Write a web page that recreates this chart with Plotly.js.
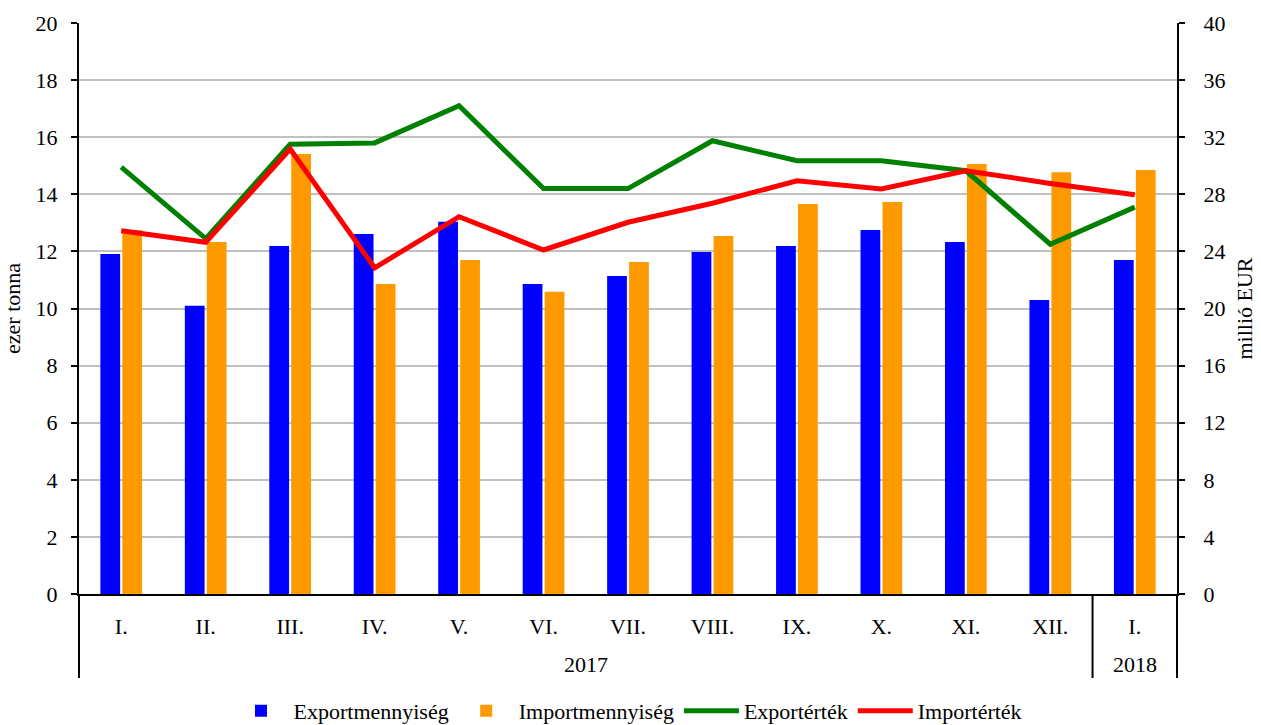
<!DOCTYPE html>
<html>
<head>
<meta charset="utf-8">
<script src="https://cdn.plot.ly/plotly-3.0.1.min.js"></script>
<style>html,body{margin:0;padding:0;background:#fff;}#chart{width:1261px;height:725px;}</style>
</head>
<body>
<div id="chart"></div>
<script>
const months = ["I.","II.","III.","IV.","V.","VI.","VII.","VIII.","IX.","X.","XI.","XII.","I."];
const yearLabels = ["2017", "2018"];
const yearMonthCounts = [12, 1];
const exportQty = [11.91, 10.10, 12.19, 12.61, 13.04, 10.86, 11.14, 11.98, 12.19, 12.75, 12.33, 10.30, 11.70];
const importQty = [12.75, 12.33, 15.41, 10.86, 11.70, 10.59, 11.63, 12.54, 13.66, 13.73, 15.06, 14.77, 14.85];
const exportVal = [29.9, 24.9, 31.5, 31.6, 34.2, 28.4, 28.4, 31.75, 30.35, 30.35, 29.65, 24.5, 27.1];
const importVal = [25.45, 24.64, 31.17, 22.85, 26.43, 24.1, 26.04, 27.37, 28.95, 28.37, 29.65, 28.76, 27.97];

const idx = months.map((_, i) => i);
const font = {family: "Liberation Serif", size: 22, color: "#000"};

const traces = [
  {type: "bar", name: "Exportmennyiség", x: idx, y: exportQty, marker: {color: "#0000ff"}},
  {type: "bar", name: "Importmennyiség", x: idx, y: importQty, marker: {color: "#ff9900"}},
  {type: "scatter", mode: "lines", name: "Exportérték", x: idx, y: exportVal, yaxis: "y2", line: {color: "#008000", width: 5}},
  {type: "scatter", mode: "lines", name: "Importérték", x: idx, y: importVal, yaxis: "y2", line: {color: "#ff0000", width: 5}}
];

// year group labels and dividers
const annotations = [];
const shapes = [];
const plotH = 725 - 23 - 131;
const yearY = -(664 - 594) / plotH;
const divY = -(678 - 594) / plotH;
const total = months.length;
let start = -0.5;
const divLine = (xv) => {
  const frac = (xv + 0.5) / total;
  return {type: "line", xref: "paper", yref: "paper", x0: frac, x1: frac, y0: 0, y1: divY, line: {color: "#000", width: 2}};
};
shapes.push(divLine(start));
yearLabels.forEach((yr, k) => {
  const end = start + yearMonthCounts[k];
  annotations.push({xref: "x", yref: "paper", x: (start + end) / 2, y: yearY, text: yr, showarrow: false, xanchor: "center", yanchor: "middle", font: font});
  shapes.push(divLine(end));
  start = end;
});

const layout = {
  width: 1261, height: 725,
  margin: {l: 79, r: 84, t: 23, b: 131, autoexpand: false},
  font: font,
  barmode: "group",
  bargap: 0.48,
  bargroupgap: 0.1,
  paper_bgcolor: "#fff", plot_bgcolor: "#fff",
  showlegend: true,
  legend: {orientation: "h", x: 0.5, xanchor: "center", y: -0.205, yanchor: "middle", font: font, traceorder: "normal", itemwidth: 55},
  annotations: annotations,
  shapes: shapes,
  xaxis: {
    range: [-0.5, months.length - 0.5],
    tickmode: "array", tickvals: idx, ticktext: months,
    showline: true, linecolor: "#000", linewidth: 2,
    ticks: "", ticklabelstandoff: 12,
    showgrid: false, zeroline: false,
    tickfont: font
  },
  yaxis: {
    range: [0, 20], dtick: 2, tick0: 0,
    showline: true, linecolor: "#000", linewidth: 2,
    ticks: "outside", ticklen: 6, tickwidth: 2, tickcolor: "#000",
    ticklabelstandoff: 9,
    showgrid: true, gridcolor: "#c0c0c0", gridwidth: 2,
    zeroline: false,
    tickfont: font,
    title: {text: "ezer tonna", font: font, standoff: 10}
  },
  yaxis2: {
    overlaying: "y", side: "right",
    range: [0, 40], dtick: 4, tick0: 0,
    showline: true, linecolor: "#000", linewidth: 2,
    ticks: "outside", ticklen: 6, tickwidth: 2, tickcolor: "#000",
    ticklabelstandoff: 14,
    showgrid: false, zeroline: false,
    tickfont: font,
    title: {text: "millió EUR", font: font, standoff: 12}
  }
};

Plotly.newPlot("chart", traces, layout, {displayModeBar: false, staticPlot: true});
</script>
</body>
</html>
